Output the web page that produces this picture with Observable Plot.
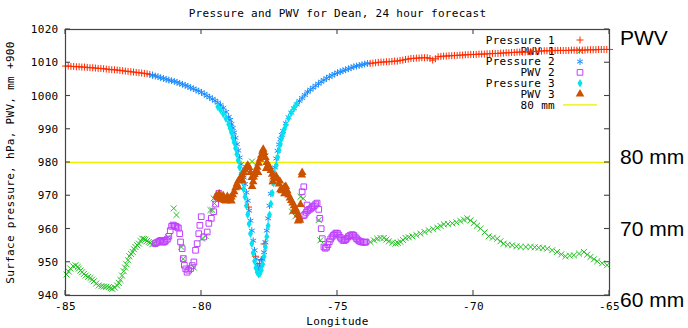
<!DOCTYPE html>
<html><head><meta charset="utf-8">
<script src="https://cdn.jsdelivr.net/npm/d3@7"></script>
<script src="https://cdn.jsdelivr.net/npm/@observablehq/plot@0.6"></script>
<style>
html,body{margin:0;padding:0;background:#fff;}
#wrap{position:relative;width:688px;height:328px;overflow:hidden;}
#wrap svg text{letter-spacing:0.3px;}
#wrap svg g.side text{letter-spacing:0;}
</style></head>
<body><div id="wrap"></div>
<script>
const titleText = "Pressure and PWV for Dean, 24 hour forecast";
const xLabel = "Longitude";
const yLabel = "Surface pressure, hPa, PWV, mm +900";
const xTicks = [-85, -80, -75, -70, -65];
const yTicks = [940, 950, 960, 970, 980, 990, 1000, 1010, 1020];
const seriesNames = ["Pressure 1", "PWV 1", "Pressure 2", "PWV 2", "Pressure 3", "PWV 3", "80 mm"];
const sideLabels = ["PWV", "80 mm", "70 mm", "60 mm"];
const line80 = [980];

const pressure1 = [
[-85.0,1009.0],[-84.9,1009.0],[-84.8,1008.9],[-84.7,1008.9],[-84.6,1008.8],[-84.5,1008.8],[-84.4,1008.7],[-84.3,1008.7],
[-84.2,1008.6],[-84.1,1008.5],[-84.0,1008.5],[-83.9,1008.4],[-83.8,1008.3],[-83.7,1008.3],[-83.6,1008.2],[-83.5,1008.1],
[-83.4,1008.0],[-83.3,1007.9],[-83.2,1007.9],[-83.1,1007.8],[-83.0,1007.7],[-82.9,1007.6],[-82.8,1007.5],[-82.7,1007.4],
[-82.6,1007.3],[-82.5,1007.2],[-82.4,1007.1],[-82.3,1007.0],[-82.2,1006.9],[-82.1,1006.8],[-82.0,1006.7],[-81.9,1006.5],[-81.8,1006.3],
[-78.27,966.6],[-78.02,951.8],[-77.87,949.6],[-77.80,950.8],[-77.70,955.5],
[-73.8,1009.8],[-73.7,1009.9],[-73.6,1010.0],[-73.5,1010.1],[-73.4,1010.2],[-73.3,1010.2],[-73.2,1010.3],[-73.1,1010.3],[-73.0,1010.4],
[-72.9,1010.5],[-72.8,1010.5],[-72.7,1010.7],[-72.6,1010.8],[-72.5,1011.0],[-72.4,1011.1],[-72.3,1011.3],[-72.2,1011.3],[-72.1,1011.4],
[-72.0,1011.4],[-71.9,1011.5],[-71.8,1011.5],[-71.7,1011.5],[-71.6,1011.3],[-71.5,1010.8],[-71.4,1011.2],[-71.3,1011.8],[-71.2,1011.9],
[-71.1,1012.0],[-71.0,1012.0],[-70.9,1012.1],[-70.8,1012.1],[-70.7,1012.2],[-70.6,1012.2],[-70.5,1012.3],[-70.4,1012.3],[-70.3,1012.4],
[-70.2,1012.4],[-70.1,1012.5],[-70.0,1012.5],[-69.9,1012.5],[-69.8,1012.6],[-69.7,1012.6],[-69.6,1012.6],[-69.5,1012.7],[-69.4,1012.7],
[-69.3,1012.8],[-69.2,1012.8],[-69.1,1012.8],[-69.0,1012.9],[-68.9,1012.9],[-68.8,1013.0],[-68.7,1013.0],[-68.6,1013.1],[-68.5,1013.1],
[-68.4,1013.2],[-68.3,1013.2],[-68.2,1013.2],[-68.1,1013.2],[-68.0,1013.3],[-67.9,1013.3],[-67.8,1013.4],[-67.7,1013.4],[-67.6,1013.5],
[-67.5,1013.5],[-67.4,1013.6],[-67.3,1013.6],[-67.2,1013.6],[-67.1,1013.6],[-67.0,1013.7],[-66.9,1013.7],[-66.8,1013.7],[-66.7,1013.7],
[-66.6,1013.7],[-66.5,1013.7],[-66.4,1013.8],[-66.3,1013.8],[-66.2,1013.8],[-66.1,1013.8],[-66.0,1013.8],[-65.9,1013.8],[-65.8,1013.9],
[-65.7,1013.9],[-65.6,1013.9],[-65.5,1013.9],[-65.4,1014.0],[-65.3,1014.0],[-65.2,1014.0],[-65.1,1014.0],[-65.0,1014.0]
];

const pwv1 = [
[-84.96,946.3],[-84.88,947.2],[-84.82,948.1],[-84.72,948.8],[-84.63,949.1],[-84.55,948.6],[-84.51,948.1],[-84.45,947.5],
[-84.39,947.0],[-84.32,946.5],[-84.26,946.0],[-84.17,945.6],[-84.08,945.3],[-84.02,944.8],[-83.96,944.3],[-83.87,943.6],
[-83.78,943.0],[-83.68,942.8],[-83.59,942.7],[-83.50,942.6],[-83.41,942.5],[-83.34,942.2],[-83.28,942.0],[-83.19,942.4],
[-83.10,943.0],[-83.04,943.8],[-82.98,944.7],[-82.92,946.0],[-82.86,947.3],[-82.81,948.4],[-82.76,949.4],[-82.70,950.6],
[-82.65,951.8],[-82.59,952.5],[-82.53,953.1],[-82.48,953.9],[-82.43,954.6],[-82.36,955.1],[-82.30,955.6],[-82.24,956.4],
[-82.18,957.1],[-82.12,957.0],[-82.06,956.8],[-82.00,956.4],[-81.94,956.1],[-81.88,955.8],[-81.81,955.4],[-81.75,955.6],
[-81.22,957.5],[-81.02,966.2],[-80.92,964.2],[-80.74,954.6],[-80.67,951.0],[-80.28,948.4],[-79.98,957.1],[-79.85,957.9],
[-79.67,965.7],[-79.60,965.7],[-79.55,969.2],[-79.52,967.7],[-78.14,980.3],[-77.65,981.8],[-76.36,969.7],[-76.26,969.2],
[-76.67,965.2],[-76.48,964.7],[-76.55,963.8],[-75.69,962.7],[-75.63,956.6],
[-73.79,956.1],[-73.66,956.6],[-73.54,957.1],[-73.42,957.3],[-73.30,957.3],[-73.20,956.8],[-73.11,956.3],[-72.99,955.9],
[-72.87,955.6],[-72.78,955.8],[-72.68,956.1],[-72.59,956.7],[-72.50,957.3],[-72.38,957.5],[-72.25,957.8],[-72.10,958.2],
[-71.95,958.6],[-71.80,959.1],[-71.64,959.6],[-71.48,960.0],[-71.33,960.4],[-71.21,960.9],[-71.09,961.4],[-70.94,961.5],
[-70.78,961.7],[-70.63,962.0],[-70.48,962.4],[-70.35,962.8],[-70.23,963.2],[-70.11,962.6],[-69.99,961.8],[-69.87,961.0],
[-69.74,960.1],[-69.59,959.0],[-69.44,957.8],[-69.29,957.4],[-69.13,957.1],[-69.01,956.3],[-68.89,955.6],[-68.74,955.3],
[-68.58,955.1],[-68.42,954.8],[-68.27,954.6],[-68.08,954.6],[-67.90,954.6],[-67.75,954.5],[-67.60,954.4],[-67.45,954.3],
[-67.29,954.1],[-67.11,953.6],[-66.93,953.1],[-66.77,952.4],[-66.62,951.8],[-66.46,952.0],[-66.31,952.1],[-66.12,952.6],
[-65.94,953.1],[-65.82,952.3],[-65.70,951.6],[-65.57,950.9],[-65.45,950.3],[-65.27,949.7],[-65.09,949.1]
];

const pressure2 = [
[-81.8,1006.2],[-81.7,1006.0],[-81.6,1005.8],[-81.5,1005.5],[-81.4,1005.3],[-81.3,1005.0],[-81.2,1004.8],[-81.1,1004.6],
[-81.0,1004.4],[-80.9,1004.1],[-80.8,1003.8],[-80.7,1003.5],[-80.6,1003.2],[-80.5,1002.9],[-80.4,1002.5],[-80.3,1002.2],
[-80.2,1001.8],[-80.1,1001.5],[-80.0,1001.1],[-79.9,1000.6],[-79.8,1000.1],[-79.7,999.6],[-79.6,999.1],[-79.5,998.6],
[-79.4,998.0],[-79.3,997.3],[-79.2,996.4],[-79.1,995.2],[-79.0,993.7],[-78.95,992.8],[-78.9,991.6],[-78.85,990.4],
[-78.8,989.0],[-78.75,987.4],[-78.7,985.5],[-78.65,983.6],[-78.6,981.5],[-78.55,979.5],[-78.5,977.5],[-78.45,975.5],
[-78.4,973.5],[-78.35,971.0],[-78.3,968.5],[-78.25,965.5],[-78.2,962.5],[-78.15,959.5],[-78.1,956.5],[-78.05,953.6],
[-78.0,951.0],[-77.95,949.0],[-77.9,947.5],[-77.85,947.8],[-77.8,949.0],[-77.75,950.8],[-77.7,953.0],[-77.65,956.0],
[-77.6,959.5],[-77.55,963.2],[-77.5,967.0],[-77.45,970.6],[-77.4,974.0],[-77.35,976.4],[-77.3,978.5],[-77.25,981.2],
[-77.2,983.5],[-77.15,985.4],[-77.1,987.0],[-77.05,988.3],
[-77.0,989.5],[-76.9,991.8],[-76.8,993.6],[-76.7,995.0],[-76.6,996.3],[-76.5,997.5],[-76.4,998.5],[-76.3,999.4],
[-76.2,1000.3],[-76.1,1001.2],[-76.0,1001.9],[-75.9,1002.5],[-75.8,1003.1],[-75.7,1003.7],[-75.6,1004.3],[-75.5,1004.8],
[-75.4,1005.3],[-75.3,1005.8],[-75.2,1006.2],[-75.1,1006.6],[-75.0,1007.0],[-74.9,1007.3],[-74.8,1007.6],[-74.7,1007.9],
[-74.6,1008.2],[-74.5,1008.5],[-74.4,1008.8],[-74.3,1009.0],[-74.2,1009.2],[-74.1,1009.4],[-74.0,1009.6],[-73.9,1009.8]
];

const pwv2 = [
[-81.70,955.6],[-81.65,955.9],[-81.60,956.1],[-81.55,956.3],[-81.50,956.6],[-81.45,956.3],[-81.40,956.0],[-81.35,956.2],
[-81.30,956.6],[-81.25,957.0],[-81.20,957.8],[-81.15,959.5],[-81.10,960.8],[-81.05,961.2],[-81.00,961.0],[-80.95,960.8],
[-80.90,960.6],[-80.85,960.3],[-80.80,958.6],[-80.77,956.1],[-80.71,954.1],[-80.67,951.1],[-80.63,949.1],[-80.58,948.0],
[-80.53,947.0],[-80.47,947.6],[-80.40,948.1],[-80.34,949.0],[-80.28,950.1],[-80.22,953.6],[-80.16,955.6],[-80.10,958.6],
[-80.06,961.1],[-80.01,963.7],[-79.92,957.6],[-79.79,959.1],[-79.73,961.7],[-79.64,963.2],[-79.55,965.2],[-79.48,967.5],
[-79.42,969.7],[-79.36,970.7],
[-76.30,971.2],[-76.24,972.7],[-76.25,964.0],[-76.20,964.4],[-76.15,965.0],[-76.12,967.2],[-76.10,965.5],[-76.05,965.9],
[-76.00,966.0],[-75.95,966.4],[-75.90,966.8],[-75.85,967.0],[-75.80,967.5],[-75.75,967.8],[-75.69,965.9],[-75.65,963.2],
[-75.60,960.1],[-75.56,957.1],
[-75.50,954.6],[-75.45,954.2],[-75.40,954.5],[-75.35,955.3],[-75.30,956.2],[-75.25,957.0],[-75.20,957.6],[-75.15,958.1],
[-75.10,958.5],[-75.05,958.8],[-75.00,958.7],[-74.95,958.2],[-74.90,957.5],[-74.85,957.0],[-74.80,956.6],[-74.75,956.5],
[-74.70,956.8],[-74.65,957.2],[-74.60,957.7],[-74.55,958.0],[-74.50,958.2],[-74.45,958.3],[-74.40,958.1],[-74.35,957.6],
[-74.30,957.1],[-74.25,956.7],[-74.20,956.4],[-74.15,956.2],[-74.10,956.1],[-74.05,956.0],[-74.00,956.0],[-73.95,956.1]
];

const pressure3 = [
[-79.40,996.8],[-79.30,995.8],[-79.20,994.6],[-79.10,993.2],[-79.00,991.5],[-78.95,990.3],[-78.90,989.0],[-78.85,987.5],
[-78.80,986.0],[-78.75,984.3],[-78.70,982.5],[-78.65,980.6],[-78.60,978.6],[-78.55,976.5],[-78.50,974.3],[-78.45,972.0],
[-78.40,969.6],[-78.35,967.0],[-78.30,964.3],[-78.25,961.5],[-78.20,958.6],[-78.15,955.6],[-78.10,952.8],[-78.05,950.3],
[-78.00,948.3],[-77.95,947.0],[-77.90,946.4],[-77.85,946.6],[-77.80,947.6],[-77.75,949.4],[-77.70,951.8],[-77.65,954.6],
[-77.60,957.7],[-77.55,961.0],[-77.50,964.3],[-77.45,967.6],[-77.40,970.8],[-77.35,973.8],[-77.30,976.6],[-77.25,979.2],
[-77.20,981.6],[-77.15,983.7],[-77.10,985.6],[-77.05,987.3],[-77.00,988.8],[-76.95,990.1],[-76.90,991.3],[-76.80,993.3],
[-76.70,995.0],[-76.60,996.4],[-76.50,997.6]
];

const pwv3 = [
[-79.45,970.0],[-79.40,969.5],[-79.35,969.3],[-79.30,969.0],[-79.25,968.8],[-79.20,968.9],[-79.15,968.6],[-79.10,968.4],
[-79.05,968.6],[-79.00,968.9],[-78.95,969.3],[-78.90,969.6],[-78.85,970.3],[-78.80,971.2],[-78.75,972.4],[-78.70,973.5],
[-78.65,974.4],[-78.60,975.0],[-78.55,975.6],[-78.50,976.2],[-78.45,977.0],[-78.40,977.8],[-78.35,978.6],[-78.30,979.2],
[-78.25,978.5],[-78.20,977.0],[-78.15,975.5],[-78.10,974.2],[-78.05,976.4],[-78.00,977.5],[-77.95,978.6],[-77.90,979.8],
[-77.85,981.0],[-77.80,982.2],[-77.76,983.4],[-77.73,984.0],[-77.70,983.0],[-77.65,981.5],[-77.60,980.0],[-77.55,979.2],
[-77.50,978.6],[-77.45,977.6],[-77.40,976.5],[-77.35,975.6],[-77.30,975.3],[-77.25,975.8],[-77.20,975.0],[-77.15,973.5],
[-77.10,971.8],[-77.05,971.5],[-77.00,972.0],[-76.95,972.6],[-76.90,972.8],[-76.85,971.5],[-76.80,970.2],[-76.75,969.3],
[-76.70,968.6],[-76.65,967.8],[-76.60,967.0],[-76.55,966.2],[-76.50,965.2],[-76.45,964.2],[-76.40,963.3],[-76.38,962.6],
[-79.35,970.6],[-79.20,970.0],[-79.05,969.8],[-78.90,968.4],[-78.65,972.6],[-78.50,974.6],[-78.14,972.8],[-78.08,975.6],
[-77.92,977.0],[-77.62,978.2],[-77.38,974.2],[-77.12,974.4],[-76.95,970.6],[-76.62,965.3],[-76.45,962.4],
[-76.31,976.2],[-76.30,977.0],[-76.36,967.4]
];

const colors = ["#ff2a00", "#22c022", "#1a8cff", "#c040ff", "#00e4f0", "#cc5200", "#eeee00"];
const symbols = ["plus", "times", "asterisk", "square2", "diamond", "triangle"];
const radii = [2.4, 2.8, 3.2, 3.6, 2.6, 3.2];

const series = [pressure1, pwv1, pressure2, pwv2, pressure3, pwv3];
const isFilled = s => s === "diamond" || s === "triangle";
const dotMarks = series.map((data, i) => Plot.dot(data, {
  x: d => d[0], y: d => d[1], symbol: symbols[i], r: radii[i],
  ...(isFilled(symbols[i]) ? {fill: colors[i], stroke: "none"} : {stroke: colors[i], fill: "none", strokeWidth: 1})
}));

const chart = Plot.plot({
  width: 688, height: 328,
  marginLeft: 65, marginRight: 79, marginTop: 29, marginBottom: 33,
  style: {fontFamily: "'DejaVu Sans Mono', monospace", fontSize: "11px", background: "#fff", color: "#000", overflow: "visible"},
  x: {domain: [-85, -65]},
  y: {domain: [940, 1020]},
  marks: [
    Plot.ruleY(line80, {stroke: colors[6], strokeWidth: 1.3}),
    ...dotMarks,
    Plot.frame({stroke: "#444", strokeWidth: 1.2}),
    Plot.axisX(xTicks, {tickSize: 0, tickPadding: 7, label: null, tickFormat: d => String(d)}),
    Plot.axisY(yTicks, {tickSize: 0, tickPadding: 7, label: null, tickFormat: d => String(d)}),
    Plot.text([titleText], {frameAnchor: "top", lineAnchor: "middle", textAnchor: "middle", dy: -16, fontSize: 11}),
    Plot.text([xLabel], {frameAnchor: "bottom", lineAnchor: "middle", textAnchor: "middle", dy: 26, fontSize: 11}),
    Plot.text([yLabel], {frameAnchor: "left", lineAnchor: "middle", textAnchor: "middle", dx: -55, rotate: -90, fontSize: 11})
  ]
});

document.getElementById("wrap").appendChild(chart);

// inner ticks on all four sides, through Plot's scales
const sx = chart.scale("x"), sy = chart.scale("y");
const X = v => sx.apply ? sx.apply(v) : d3.scaleLinear(sx.domain, sx.range)(v);
const Y = v => sy.apply ? sy.apply(v) : d3.scaleLinear(sy.domain, sy.range)(v);
const svg = d3.select(chart);
const [x0, x1] = [X(-85), X(-65)], [y0, y1] = [Y(1020), Y(940)];
const tk = svg.append("g").attr("stroke", "#444").attr("stroke-width", 1.1);
const tl = 5;
xTicks.forEach(v => {
  tk.append("line").attr("x1", X(v)).attr("x2", X(v)).attr("y1", y1).attr("y2", y1 - tl);
  tk.append("line").attr("x1", X(v)).attr("x2", X(v)).attr("y1", y0).attr("y2", y0 + tl);
});
yTicks.forEach(v => {
  tk.append("line").attr("y1", Y(v)).attr("y2", Y(v)).attr("x1", x0).attr("x2", x0 + tl);
  tk.append("line").attr("y1", Y(v)).attr("y2", Y(v)).attr("x1", x1).attr("x2", x1 - tl);
});

// legend (drawn beneath the data, as in the reference)
const lg = svg.insert("g", ":first-child").attr("font-family", "'DejaVu Sans Mono', monospace").attr("font-size", 11);
const rowH = 10.8, textRight = x1 - 54, symX = x1 - 29;
const d3sym = {plus: d3.symbolPlus, times: d3.symbolTimes, asterisk: d3.symbolAsterisk, square2: d3.symbolSquare2, diamond: d3.symbolDiamond, triangle: d3.symbolTriangle};
seriesNames.forEach((name, i) => {
  const yy = y0 + 11 + i * rowH;
  lg.append("text").attr("x", textRight).attr("y", yy).attr("text-anchor", "end").attr("dy", "0.35em").text(name);
  if (i < 6) {
    const f = isFilled(symbols[i]);
    lg.append("path").attr("transform", `translate(${symX},${yy})`)
      .attr("d", d3.symbol(d3sym[symbols[i]], radii[i] * radii[i] * Math.PI)())
      .attr("fill", f ? colors[i] : "none").attr("stroke", f ? "none" : colors[i]).attr("stroke-width", 1);
  } else {
    lg.append("line").attr("x1", symX - 17).attr("x2", symX + 17).attr("y1", yy).attr("y2", yy)
      .attr("stroke", colors[6]).attr("stroke-width", 1.3);
  }
});
svg.insert("rect", ":first-child").attr("width", 688).attr("height", 328).attr("fill", "#fff");

// large side labels at the right
const sideY = [38, 157, 229, 300];
const sg = svg.append("g").attr("class", "side").attr("font-family", "'Liberation Sans', Arial, sans-serif")
  .attr("font-size", 21).attr("fill", "#000").attr("text-anchor", "start");
sideLabels.forEach((t, i) => {
  sg.append("text").attr("x", x1 + 11).attr("y", sideY[i]).attr("dy", "0.35em").attr("text-anchor", "start").text(t);
});
</script>
</body></html>
